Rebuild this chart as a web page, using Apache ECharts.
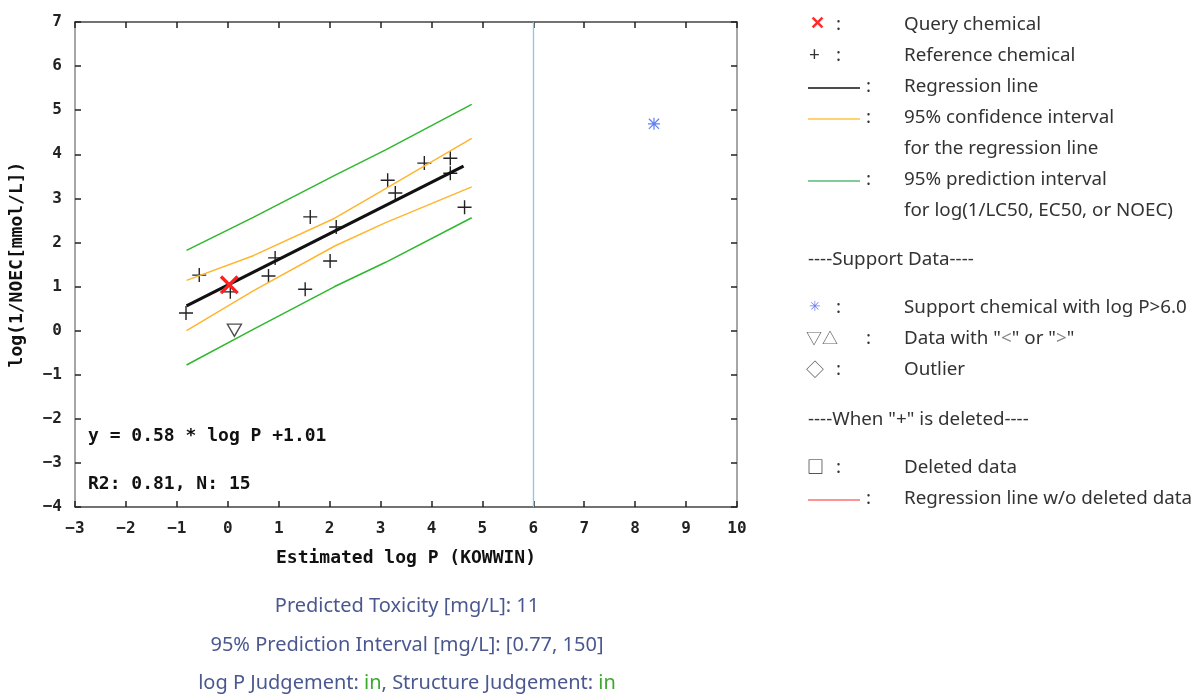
<!DOCTYPE html>
<html><head><meta charset="utf-8">
<script src="https://cdn.jsdelivr.net/npm/echarts@6/dist/echarts.min.js"></script>
<style>html,body{margin:0;padding:0;background:#fff}#c{width:1196px;height:695px}</style>
</head><body><div id="c"></div>
<script>
// ---- data ----
const refX = [-0.82, -0.56, 0.05, 0.80, 0.93, 1.52, 1.62, 2.01, 2.13, 3.14, 3.29, 3.86, 4.37, 4.37, 4.65];
const refY = [0.40, 1.26, 0.88, 1.24, 1.65, 0.94, 2.58, 1.58, 2.35, 3.41, 3.12, 3.80, 3.91, 3.57, 2.80];
const queryPt = [0.03, 1.04];
const lessThanPt = [0.13, 0.01];
const supportPt = [8.37, 4.69];
const regLine = [[-0.81, 0.56], [4.63, 3.73]];
const ciUpper = [[-0.81, 1.14], [0.5, 1.70], [2.1, 2.55], [3.1, 3.22], [4.79, 4.36]];
const ciLower = [[-0.81, 0.00], [0.5, 0.90], [2.1, 1.92], [3.1, 2.45], [4.79, 3.26]];
const piUpper = [[-0.81, 1.82], [0.5, 2.57], [2.1, 3.52], [3.1, 4.10], [4.79, 5.13]];
const piLower = [[-0.81, -0.78], [0.5, 0.03], [2.1, 1.00], [3.1, 1.55], [4.79, 2.56]];
const logPLimit = 6;
const xRange = [-3, 10];
const yRange = [-4, 7];
const eqText = 'y = 0.58 * log P +1.01';
const statText = 'R2: 0.81, N: 15';
const predLines = ['Predicted Toxicity [mg/L]: 11', '95% Prediction Interval [mg/L]: [0.77, 150]'];

// ---- chart ----
const chart = echarts.init(document.getElementById('c'), null, {renderer: 'canvas'});
const mono = '"DejaVu Sans Mono", "Liberation Mono", monospace';
const sans = '"Noto Sans", "Noto Sans CJK JP", sans-serif';
const tickLbl = {color: '#222', fontFamily: mono, fontWeight: 'bold', fontSize: 16,
  formatter: v => String(v).replace('-', '\u2212')};

const refData = refX.map((x, i) => [x, refY[i]]);

const legendFont = {fontFamily: sans, fontSize: 18.8, fill: '#333'};
const LX = 904;
function txt(x, y, t, extra) {
  return {type: 'text', x: x, y: y, style: Object.assign({text: t, verticalAlign: 'middle'}, legendFont, extra || {})};
}
function seg(y, color) {
  return {type: 'line', shape: {x1: 808, y1: y, x2: 860, y2: y}, style: {stroke: color, lineWidth: 1.3}};
}
const blue = '#4b5890';
const bottomFont = 20;
const BX = 407;
const graphics = [
  txt(810, 24, '✕', {fill: '#ff2a2a', fontWeight: 'bold', fontSize: 18}), txt(836, 25, ':'), txt(LX, 25, 'Query chemical'),
  txt(809, 56, '+', {fontSize: 19}), txt(836, 56, ':'), txt(LX, 56, 'Reference chemical'),
  seg(88, '#111'), txt(866, 87, ':'), txt(LX, 87, 'Regression line'),
  seg(119, '#ffc640'), txt(866, 118, ':'), txt(LX, 118, '95% confidence interval'),
  txt(LX, 149, 'for the regression line'),
  seg(181, '#55bb77'), txt(866, 180, ':'), txt(LX, 180, '95% prediction interval'),
  txt(LX, 211, 'for log(1/LC50, EC50, or NOEC)'),
  txt(808, 260, '----Support Data----'),
  txt(809, 307, '✳', {fill: '#6f7ff0', fontFamily: '"DejaVu Sans", sans-serif', fontSize: 14}), txt(836, 308, ':'),
  txt(LX, 308, 'Support chemical with log P>6.0'),
  txt(806, 338, '▽△', {fill: '#666', fontFamily: '"Noto Sans CJK JP", sans-serif', fontSize: 16}), txt(866, 339, ':'),
  {type: 'text', x: LX, y: 339, style: {text: '{a|Data with "}{g|<}{a|" or "}{g|>}{a|"}', verticalAlign: 'middle',
    rich: {a: Object.assign({}, legendFont), g: Object.assign({}, legendFont, {fill: '#888'})}}},
  txt(806, 369, '◇', {fill: '#666', fontFamily: '"Noto Sans CJK JP", sans-serif', fontSize: 18}), txt(836, 370, ':'), txt(LX, 370, 'Outlier'),
  txt(808, 420, '----When "+" is deleted----'),
  txt(807, 467, '□', {fill: '#222', fontFamily: '"Noto Sans CJK JP", sans-serif', fontSize: 17}), txt(836, 468, ':'), txt(LX, 468, 'Deleted data'),
  seg(500, '#ff6f6f'), txt(866, 499, ':'), txt(LX, 499, 'Regression line w/o deleted data'),
  // equation text inside plot
  {type: 'text', x: 88, y: 436, style: {text: eqText, verticalAlign: 'middle', fontFamily: mono, fontWeight: 'bold', fontSize: 18, fill: '#111'}},
  {type: 'text', x: 88, y: 484, style: {text: statText, verticalAlign: 'middle', fontFamily: mono, fontWeight: 'bold', fontSize: 18, fill: '#111'}},
  // bottom prediction summary
  {type: 'text', x: BX, y: 606, style: {text: predLines[0], fontFamily: sans, fontSize: bottomFont, fill: blue, align: 'center', verticalAlign: 'middle'}},
  {type: 'text', x: BX, y: 645, style: {text: predLines[1], fontFamily: sans, fontSize: bottomFont, fill: blue, align: 'center', verticalAlign: 'middle'}},
  {type: 'text', x: BX, y: 683, style: {text: '{a|log P Judgement: }{g|in}{a|, Structure Judgement: }{g|in}', align: 'center', verticalAlign: 'middle',
    rich: {a: {fontFamily: sans, fontSize: bottomFont, fill: blue}, g: {fontFamily: sans, fontSize: bottomFont, fill: '#3aaa2a'}}}}
];

const plusPath = 'path://M0,6.3H14V7.7H0Z M6.3,0H7.7V14H6.3Z';
const xPath = 'path://M0,2.5L2.5,0L20,17.5L17.5,20Z M17.5,0L20,2.5L2.5,20L0,17.5Z';
const starPath = 'path://M5.4,0H6.6V12H5.4Z M0,5.4H12V6.6H0Z M1.3,0.5L11.5,10.7L10.7,11.5L0.5,1.3Z M10.7,0.5L11.5,1.3L1.3,11.5L0.5,10.7Z';
const triPath = 'path://M0,0H14L7,12Z';

const axisBase = {type: 'value', splitLine: {show: false}, axisTick: {inside: true, length: 6, lineStyle: {color: '#222', width: 1.5}}};
const nameStyle = {fontFamily: mono, fontWeight: 'bold', fontSize: 18, color: '#111'};

chart.setOption({
  animation: false,
  grid: {left: 75, right: 459, top: 22, bottom: 188, containLabel: false, outerBoundsMode: 'none'},
  xAxis: [
    Object.assign({}, axisBase, {min: xRange[0], max: xRange[1], interval: 1, position: 'bottom',
      axisLine: {onZero: false, lineStyle: {color: '#444', width: 1.5}}, axisLabel: Object.assign({margin: 14}, tickLbl),
      name: 'Estimated log P (KOWWIN)', nameLocation: 'middle', nameGap: 42, nameTextStyle: nameStyle}),
    Object.assign({}, axisBase, {min: xRange[0], max: xRange[1], interval: 1, position: 'top',
      axisLine: {onZero: false, lineStyle: {color: '#444', width: 1.5}}, axisLabel: {show: false}})
  ],
  yAxis: [
    Object.assign({}, axisBase, {min: yRange[0], max: yRange[1], interval: 1, position: 'left',
      axisLine: {onZero: false, lineStyle: {color: '#888', width: 1.5}}, axisLabel: Object.assign({margin: 13}, tickLbl),
      name: 'log(1/NOEC[mmol/L])', nameLocation: 'middle', nameGap: 49, nameRotate: 90, nameTextStyle: nameStyle}),
    Object.assign({}, axisBase, {min: yRange[0], max: yRange[1], interval: 1, position: 'right',
      axisLine: {onZero: false, lineStyle: {color: '#888', width: 1.5}}, axisLabel: {show: false}})
  ],
  series: [
    {type: 'line', data: piUpper, symbol: 'none', lineStyle: {color: '#2db82d', width: 1.5}, silent: true,
      markLine: {silent: true, symbol: 'none', label: {show: false}, emphasis: {disabled: true},
        lineStyle: {color: '#86cbe6', width: 1.3, type: 'solid', opacity: 1}, data: [{xAxis: logPLimit}]}},
    {type: 'line', data: piLower, symbol: 'none', lineStyle: {color: '#2db82d', width: 1.5}, silent: true},
    {type: 'line', data: ciUpper, symbol: 'none', lineStyle: {color: '#ffb52e', width: 1.5}, silent: true},
    {type: 'line', data: ciLower, symbol: 'none', lineStyle: {color: '#ffb52e', width: 1.5}, silent: true},
    {type: 'line', data: regLine, symbol: 'none', lineStyle: {color: '#111', width: 3.2}, silent: true},
    {type: 'scatter', data: refData, symbol: plusPath, symbolSize: 14, itemStyle: {color: '#222', opacity: 1}},
    {type: 'scatter', data: [lessThanPt], symbol: triPath, symbolSize: [14, 12], itemStyle: {color: 'rgba(255,255,255,0)', borderColor: '#222', borderWidth: 1.4}},
    {type: 'scatter', data: [queryPt], symbol: xPath, symbolSize: 19, itemStyle: {color: '#ff1f1f', opacity: 1}, z: 5},
    {type: 'scatter', data: [supportPt], symbol: starPath, symbolSize: 12, itemStyle: {color: '#3a5cf0'}}
  ],
  graphic: graphics
});
</script>
</body></html>
